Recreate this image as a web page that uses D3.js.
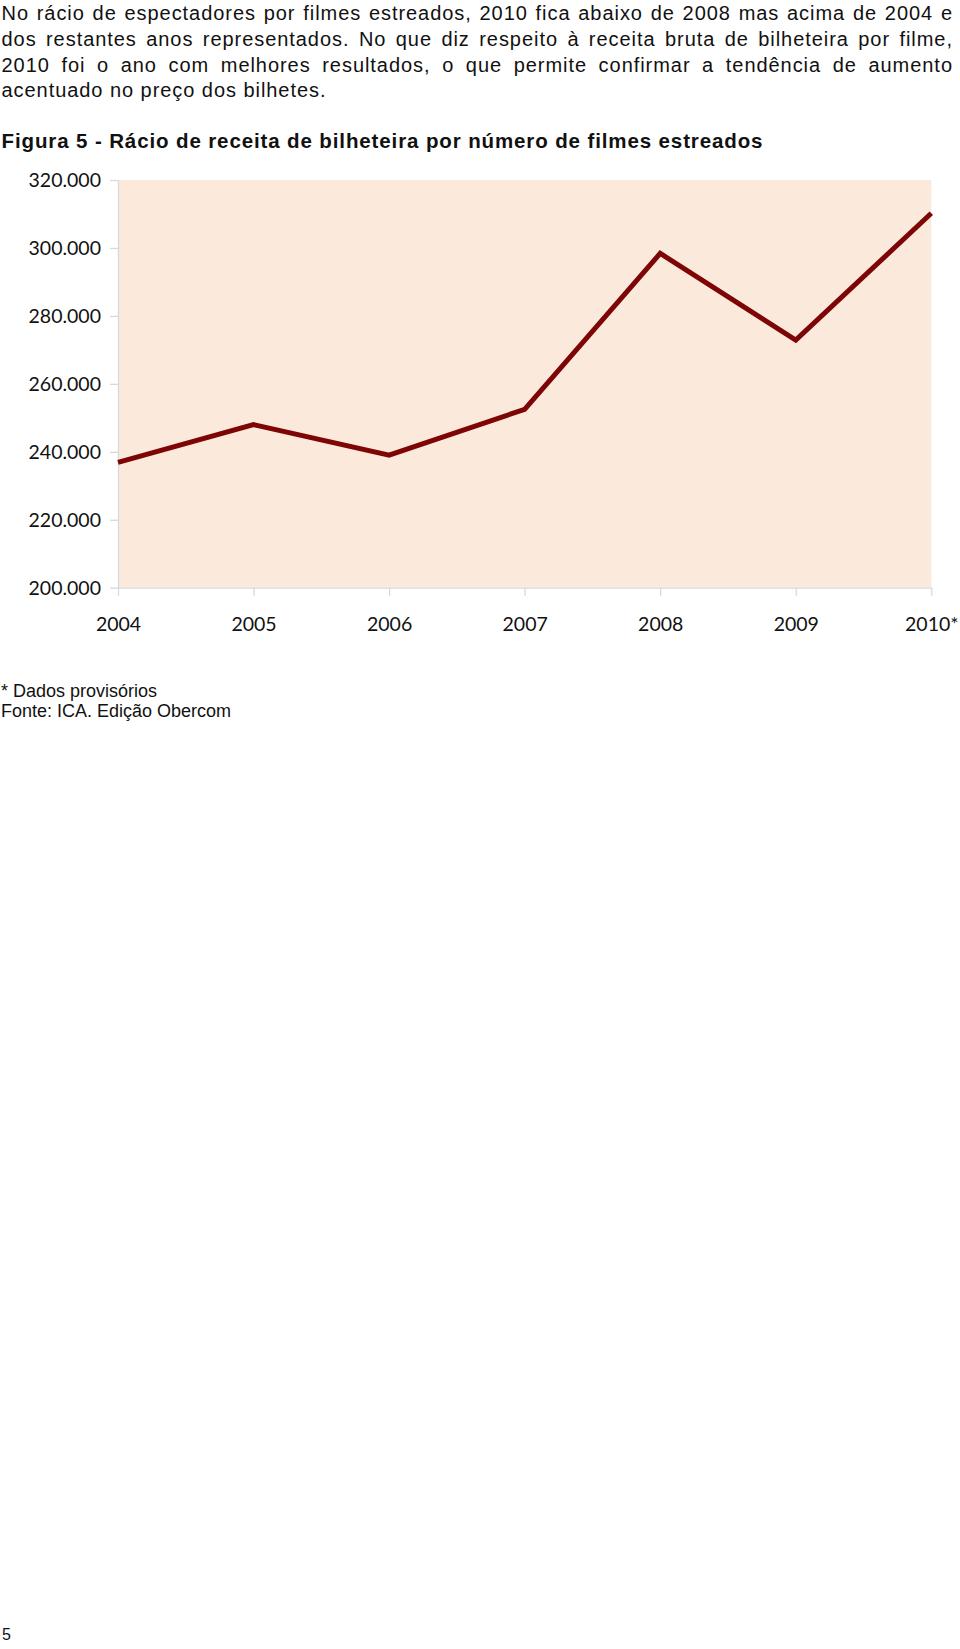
<!DOCTYPE html>
<html>
<head>
<meta charset="utf-8">
<script src="https://cdn.jsdelivr.net/npm/d3@7"></script>
<style>
  body { margin: 0; background: #fff; }
  svg { display: block; }
</style>
</head>
<body>
<div id="chart"></div>
<script>
//================================
// Data
var paragraph = [
  "No rácio de espectadores por filmes estreados, 2010 fica abaixo de 2008 mas acima de 2004 e",
  "dos restantes anos representados. No que diz respeito à receita bruta de bilheteira por filme,",
  "2010 foi o ano com melhores resultados, o que permite confirmar a tendência de aumento",
  "acentuado no preço dos bilhetes."
];
var title = "Figura 5 - Rácio de receita de bilheteira por número de filmes estreados";
var years = ["2004", "2005", "2006", "2007", "2008", "2009", "2010*"];
var ratio = [236900, 248000, 239000, 252500, 298400, 272900, 310200];
var yTicks = [200000, 220000, 240000, 260000, 280000, 300000, 320000];
var notes = ["* Dados provisórios", "Fonte: ICA. Edição Obercom"];
var pageNumber = "5";

//================================
// Setup
var bodyFont = '"Liberation Sans", Arial, Helvetica, sans-serif',
    axisFont = 'Lato, "Open Sans", sans-serif',
    bodySize = 20;

var svg = d3.select('#chart').append('svg')
    .attr('width', 960)
    .attr('height', 1649);

svg.append('rect')
    .attr('width', 960)
    .attr('height', 1649)
    .attr('fill', '#fff');

//================================
// Paragraph (justified)
var lineY = [20, 45.8, 71.6, 97.4],
    left = 1.5,
    right = 952;

function naturalWidth(str, weight) {
  var t = svg.append('text')
      .style('font-family', bodyFont)
      .style('font-size', bodySize + 'px')
      .style('font-weight', weight || 'normal')
      .text(str);
  var w = t.node().getComputedTextLength();
  t.remove();
  return w;
}

// letter spacing taken from the last (unjustified) line
var lastLine = paragraph[paragraph.length - 1];
var lastWidth = 324;
var ls = (lastWidth - naturalWidth(lastLine)) / (lastLine.length - 1);

paragraph.forEach(function(line, li) {
  if (li === paragraph.length - 1) {
    svg.append('text')
        .attr('x', left)
        .attr('y', lineY[li])
        .attr('textLength', lastWidth)
        .attr('lengthAdjust', 'spacing')
        .style('font-family', bodyFont)
        .style('font-size', bodySize + 'px')
        .attr('fill', '#111')
        .text(line);
    return;
  }
  var words = line.split(' ');
  var widths = words.map(function(w) {
    return naturalWidth(w) + ls * (w.length - 1);
  });
  var gap = (right - left - d3.sum(widths)) / (words.length - 1);
  var x = left;
  words.forEach(function(w, i) {
    svg.append('text')
        .attr('x', x)
        .attr('y', lineY[li])
        .attr('textLength', widths[i])
        .attr('lengthAdjust', 'spacing')
        .style('font-family', bodyFont)
        .style('font-size', bodySize + 'px')
        .attr('fill', '#111')
        .text(w);
    x += widths[i] + gap;
  });
});

// Title
svg.append('text')
    .attr('x', left)
    .attr('y', 147.5)
    .attr('textLength', 761)
    .attr('lengthAdjust', 'spacing')
    .style('font-family', bodyFont)
    .style('font-size', '20.5px')
    .style('font-weight', 'bold')
    .attr('fill', '#111')
    .text(title);

//================================
// Chart
var x = d3.scalePoint()
    .domain(years)
    .range([118, 931.3]);

var y = d3.scaleLinear()
    .domain([200000, 320000])
    .range([587.7, 180]);

var pt = d3.formatLocale({decimal: ",", thousands: ".", grouping: [3], currency: ["€", ""]});
var fmt = pt.format(",.0f");

svg.append('rect')
    .attr('x', x(years[0]))
    .attr('y', y(320000))
    .attr('width', x(years[years.length - 1]) - x(years[0]))
    .attr('height', y(200000) - y(320000))
    .attr('fill', '#fbe9dc');

var yAxis = svg.append('g')
    .attr('transform', 'translate(' + x(years[0]) + ',0)')
    .call(d3.axisLeft(y).tickValues(yTicks).tickSize(8).tickSizeOuter(0).tickPadding(9).tickFormat(fmt));

var xAxis = svg.append('g')
    .attr('transform', 'translate(0,' + y(200000) + ')')
    .call(d3.axisBottom(x).tickSize(8).tickSizeOuter(0));

[yAxis, xAxis].forEach(function(g) {
  g.select('.domain').attr('stroke', '#d9d9d9').attr('stroke-width', 1.3);
  g.selectAll('.tick line').attr('stroke', '#d9d9d9').attr('stroke-width', 1.3);
  g.selectAll('.tick text')
      .attr('fill', '#111')
      .style('font-family', axisFont)
      .style('font-size', '19.5px');
});

yAxis.selectAll('.tick text').attr('dy', '0.34em');
xAxis.selectAll('.tick text').attr('y', 43).attr('dy', 0);

var line = d3.line()
    .x(function(d, i) { return x(years[i]); })
    .y(function(d) { return y(d); });

svg.append('path')
    .datum(ratio)
    .attr('d', line)
    .attr('fill', 'none')
    .attr('stroke', '#7d0505')
    .attr('stroke-width', 5);

//================================
// Notes
svg.selectAll('text.note')
    .data(notes)
  .enter().append('text')
    .attr('class', 'note')
    .attr('x', 1)
    .attr('y', function(d, i) { return 696.7 + i * 20.6; })
    .style('font-family', bodyFont)
    .style('font-size', '18px')
    .attr('fill', '#111')
    .text(function(d) { return d; });

svg.append('text')
    .attr('x', 2)
    .attr('y', 1640)
    .style('font-family', bodyFont)
    .style('font-size', '16px')
    .attr('fill', '#111')
    .text(pageNumber);
</script>
</body>
</html>
